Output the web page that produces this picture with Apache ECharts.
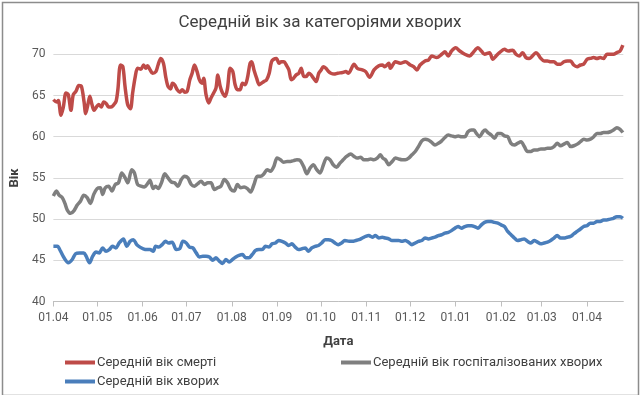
<!DOCTYPE html>
<html>
<head>
<meta charset="utf-8">
<script src="https://cdn.jsdelivr.net/npm/echarts@6/dist/echarts.min.js"></script>
<style>html,body{margin:0;padding:0;background:#fff;}#c{width:640px;height:395px;}</style>
</head>
<body>
<div id="c"></div>
<script>
// Day offsets from 01.04.2020 for month starts (tick positions) and their labels
const monthDays = [0, 30, 61, 91, 122, 153, 183, 214, 244, 275, 306, 334, 365];
const tickLabels = ['01.04','01.05','01.06','01.07','01.08','01.09','01.10','01.11','01.12','01.01','01.02','01.03','01.04'];

const seriesNames = ['Середній вік смерті', 'Середній вік госпіталізованих хворих', 'Середній вік хворих'];

// Середній вік смерті
const deathDays = [0,2.3,3.4,5.2,6.8,8.6,10.2,12.0,13.6,15.4,17.4,19.2,21.0,22.1,23.7,24.9,26.4,27.8,29.4,31.0,32.8,34.4,36.2,37.7,39.5,41.4,42.9,44.1,45.9,47.5,49.0,50.8,52.7,54.2,56.0,57.6,59.9,61.7,63.3,64.4,66.2,67.8,70.1,71.6,73.4,75.3,76.8,78.4,80.2,81.4,82.9,84.7,86.6,88.1,89.9,91.5,93.3,94.9,96.5,98.3,99.9,101.7,102.8,104.4,106.2,107.8,109.6,111.2,112.5,114.1,115.7,117.5,119.1,120.9,122.7,124.3,125.9,127.7,129.3,131.1,132.7,134.5,135.6,137.2,139.0,140.8,142.4,144.0,145.8,147.6,149.2,150.7,152.5,154.4,155.9,157.7,159.3,161.1,162.7,164.3,166.1,167.9,169.5,171.3,172.9,174.7,176.3,177.9,179.7,181.5,183.1,184.6,186.4,188.2,189.8,192.0,194.4,197.8,200.0,201.8,205.7,207.9,211.3,213.6,216.3,219.3,222.6,224.9,226.7,229.4,230.5,233.9,237.3,240.7,244.1,246.4,248.6,250.8,254.2,256.5,258.8,262.2,265.6,267.8,270.1,272.3,275.1,278.0,281.4,284.7,287.0,290.4,292.7,294.9,298.3,300.6,302.8,305.1,308.5,311.2,314.2,316.4,318.6,320.9,323.2,325.4,327.7,330.0,331.5,333.4,335.6,337.9,340.1,342.4,344.7,346.9,349.2,351.5,353.7,355.9,358.2,360.5,362.7,365.0,367.3,369.5,371.8,374.0,376.3,378.6,380.8,383.1,385.4,387.6,389.5];
const deathAge = [64.5,64.2,64.4,62.6,63.6,65.3,65.1,63.2,65.1,65.5,66.2,66.1,64.2,62.8,64.0,64.9,63.9,63.2,63.6,63.9,63.6,64.2,64.0,63.6,63.6,63.9,64.3,65.7,68.7,68.5,66.1,63.9,63.4,65.3,67.3,68.3,68.2,68.7,68.3,68.6,68.1,67.7,67.9,68.7,69.5,68.9,67.3,66.1,65.8,66.5,66.3,65.7,65.4,65.7,65.4,65.5,66.9,67.7,68.7,67.9,66.9,66.5,67.1,65.1,64.1,64.7,65.3,65.9,67.5,66.1,65.3,64.9,65.9,68.3,67.9,66.3,65.7,65.7,66.5,66.3,67.1,68.9,69.1,68.1,67.1,66.3,66.5,66.7,66.9,67.7,69.1,69.4,69.5,68.9,69.1,69.1,68.7,68.1,66.9,67.1,67.5,67.7,68.3,67.3,67.3,67.7,67.5,67.1,66.7,67.7,68.1,68.5,68.3,67.9,67.7,67.6,67.7,67.8,67.9,67.7,68.8,68.3,68.1,67.9,67.2,68.1,68.6,68.7,68.5,68.9,68.3,69.1,68.9,69.1,68.7,68.5,68.1,68.7,69.2,69.3,69.8,69.6,70.0,70.3,69.8,70.4,70.8,70.4,70.0,69.8,70.2,70.8,70.4,70.0,70.2,69.4,69.8,70.2,70.6,70.4,70.5,70.0,69.8,70.2,69.6,69.5,69.8,70.2,70.0,69.5,69.2,69.2,69.1,69.1,68.8,68.8,69.1,69.2,69.2,68.7,68.5,68.7,68.8,69.4,69.5,69.6,69.5,69.6,69.5,70.0,70.0,70.0,70.2,70.4,71.1];

// Середній вік госпіталізованих хворих
const hospDays = [0,2.1,3.9,6.1,7.9,9.5,11.8,14.0,16.3,18.6,20.8,23.1,25.3,27.6,29.9,32.1,33.7,35.5,37.8,40.0,42.3,44.5,46.8,49.1,50.9,53.6,55.4,57.6,59.9,62.2,64.4,66.0,68.3,69.9,71.7,73.9,76.2,78.4,80.7,82.9,85.2,87.5,89.7,92.0,94.3,96.5,98.8,101.0,103.3,105.6,107.8,110.1,112.3,114.6,116.9,119.1,121.4,123.6,125.9,128.2,130.4,132.7,134.9,137.2,139.5,141.7,144.0,146.2,148.5,150.8,153.0,155.3,157.5,159.8,162.1,164.3,166.6,168.8,171.1,173.4,175.6,177.9,180.1,182.4,184.7,186.9,189.2,191.4,193.7,196.0,198.2,200.5,203.4,205.7,207.9,210.2,212.4,214.7,217.0,219.2,221.5,223.7,225.3,227.1,229.4,231.7,233.9,236.2,238.4,240.7,243.0,245.2,247.5,249.7,252.0,254.3,256.5,258.8,261.0,263.3,265.6,267.8,270.1,272.3,274.6,276.9,279.1,281.4,283.6,285.9,287.7,289.3,291.5,293.8,295.4,297.2,299.5,301.7,304.0,306.2,308.5,310.8,313.0,315.3,317.5,319.8,322.1,324.3,326.6,328.8,331.1,333.4,335.6,337.9,340.1,342.4,344.7,346.9,349.2,351.5,353.7,356.0,358.3,360.5,362.8,365.0,367.3,369.6,371.8,374.1,376.3,378.6,380.9,383.1,385.4,387.6,389.5];
const hospAge = [52.8,53.4,52.9,52.6,51.9,51.1,50.7,51.0,51.7,52.2,52.9,52.6,51.9,53.0,53.7,53.8,53.0,53.8,54.0,53.4,54.2,54.4,55.6,55.0,54.4,56.0,55.6,54.2,54.0,53.9,54.3,54.7,53.7,54.0,53.7,54.4,55.5,55.0,54.5,54.4,54.0,54.8,55.2,55.0,54.2,54.0,54.3,54.6,54.2,54.4,54.4,53.6,53.8,54.0,54.8,54.4,53.6,53.4,54.2,53.8,53.9,53.7,53.3,54.2,55.2,55.2,55.5,56.0,55.8,56.4,57.4,57.2,56.9,57.0,57.0,57.1,57.2,57.1,56.4,55.5,56.2,56.6,56.0,55.6,56.6,57.4,57.2,56.6,56.3,56.8,57.2,57.6,57.9,57.6,57.4,57.5,57.2,57.2,57.3,57.2,57.4,57.8,57.4,57.2,56.6,57.0,57.4,57.3,57.2,57.2,57.4,57.8,58.2,58.8,59.5,59.7,59.6,59.3,59.0,59.2,59.5,59.9,60.2,60.1,60.0,60.1,60.0,60.0,60.6,60.8,60.8,60.4,60.0,60.6,60.8,60.5,60.2,59.8,60.4,60.4,60.1,60.0,59.2,59.0,59.2,59.4,58.8,58.2,58.2,58.4,58.4,58.5,58.5,58.6,58.6,58.8,59.2,58.9,59.1,59.3,58.8,58.9,59.1,59.4,59.7,59.6,59.7,60.0,60.4,60.4,60.5,60.5,60.6,60.8,61.1,60.9,60.5];

// Середній вік хворих
const caseDays = [0,2.7,4.9,7.3,10.2,12.9,15.2,17.9,20.8,22.4,24.7,26.9,29.2,31.4,33.7,36.0,38.2,40.5,42.7,45.0,47.9,50.2,52.5,54.7,57.0,59.2,61.5,63.7,66.0,68.3,69.9,72.1,74.4,76.6,78.9,81.2,84.1,86.4,88.6,90.9,93.1,95.4,97.7,99.9,102.2,104.4,106.7,109.0,111.2,113.5,115.7,118.0,120.2,122.5,124.8,127.0,129.3,131.5,133.8,136.0,138.3,140.6,142.8,145.1,147.4,149.6,151.9,154.1,156.4,158.7,160.9,163.2,165.4,167.7,170.0,172.2,174.5,176.7,179.0,181.3,183.5,185.8,188.0,190.3,192.6,194.8,197.1,199.3,202.3,204.5,206.8,209.0,211.3,213.6,215.8,218.1,220.3,222.6,224.9,227.1,229.4,231.6,233.9,236.2,238.4,240.7,242.9,245.2,247.5,249.7,252.0,254.2,256.5,258.8,261.0,263.3,265.5,267.8,270.1,272.3,274.6,276.8,279.1,281.4,283.6,285.9,288.1,290.4,292.7,294.9,297.2,299.4,301.7,304.0,306.2,308.5,310.7,313.0,315.3,317.5,319.8,322.0,324.3,326.6,328.8,331.1,333.3,335.6,337.9,340.1,342.4,344.6,346.9,349.2,351.4,353.7,355.9,358.2,360.5,362.7,365.0,367.2,369.5,371.8,374.0,376.3,378.5,380.8,383.1,385.3,387.6,389.5];
const caseAge = [46.7,46.7,46.1,45.3,44.7,45.1,45.8,45.9,45.9,45.5,44.7,45.5,46.0,45.9,46.5,46.1,46.3,46.7,46.5,47.1,47.6,46.7,47.3,47.5,46.9,46.6,46.4,46.3,46.3,46.1,46.7,46.6,46.9,47.3,47.1,47.2,46.3,46.4,47.3,47.1,46.6,46.5,45.9,45.4,45.5,45.5,45.4,45.0,45.3,44.9,44.6,45.1,44.8,45.1,45.4,45.6,45.7,45.3,45.3,45.7,46.2,46.3,46.3,46.7,46.6,47.0,47.1,47.4,47.3,47.1,46.8,47.0,46.6,46.3,46.4,46.5,46.1,46.5,46.7,46.8,47.1,47.5,47.5,47.4,47.1,46.9,47.1,47.4,47.3,47.3,47.4,47.5,47.7,47.9,48.0,47.8,48.0,47.7,47.8,47.7,47.6,47.4,47.4,47.4,47.3,47.4,47.2,46.9,47.1,47.3,47.4,47.7,47.6,47.7,47.8,48.0,48.1,48.3,48.4,48.6,48.9,49.1,48.9,49.1,49.2,49.2,49.1,48.9,49.3,49.6,49.7,49.7,49.6,49.5,49.3,49.1,48.5,48.1,47.7,47.4,47.5,47.6,47.3,47.1,47.4,47.2,47.0,47.1,47.2,47.4,47.7,48.0,47.7,47.7,47.8,47.9,48.2,48.5,48.8,49.1,49.2,49.5,49.5,49.7,49.7,49.9,49.9,50.0,50.1,50.3,50.3,50.1];

const zip = (xs, ys) => xs.map((x, i) => [x, ys[i]]);
const colors = ['#BE4B48', '#7F7F7F', '#4A7EBB'];
const FONT = 'Roboto';

const chart = echarts.init(document.getElementById('c'), null, {renderer: 'canvas'});
chart.setOption({
  animation: false,
  backgroundColor: '#ffffff',
  color: colors,
  title: {
    text: 'Середній вік за категоріями хворих',
    left: 'center', top: 9,
    textStyle: {fontFamily: FONT, fontSize: 17, fontWeight: 'normal', color: '#404040'}
  },
  grid: {left: 48.3, right: 16.7, top: 54.3, bottom: 93.5},
  legend: [
    {data: [seriesNames[0]], left: 60, top: 351},
    {data: [seriesNames[1]], left: 336, top: 351},
    {data: [seriesNames[2]], left: 60, top: 370}
  ].map(l => Object.assign(l, {
    icon: 'rect', itemWidth: 30, itemHeight: 4, itemGap: 4,
    textStyle: {fontFamily: FONT, fontSize: 13, color: '#404040', padding: [0, 0, 0, -3]}
  })),
  xAxis: {
    type: 'value', min: 0, max: 389.8,
    name: 'Дата', nameLocation: 'middle', nameGap: 34,
    nameTextStyle: {fontFamily: FONT, fontSize: 13, fontWeight: 'bold', color: '#404040'},
    axisLine: {show: true, lineStyle: {color: '#BFBFBF', width: 1}},
    axisTick: {show: true, length: 5, inside: false, customValues: monthDays, lineStyle: {color: '#BFBFBF'}},
    axisLabel: {
      customValues: monthDays, margin: 10,
      fontFamily: FONT, fontSize: 12, color: '#595959',
      formatter: (v) => { const i = monthDays.indexOf(v); return i >= 0 ? tickLabels[i] : ''; }
    },
    splitLine: {show: false}
  },
  yAxis: {
    type: 'value', min: 40, max: 70, interval: 5,
    name: 'Вік', nameLocation: 'middle', nameGap: 30, nameRotate: 90,
    nameTextStyle: {fontFamily: FONT, fontSize: 13, fontWeight: 'bold', color: '#404040'},
    axisLine: {show: false}, axisTick: {show: false},
    axisLabel: {fontFamily: FONT, fontSize: 12, color: '#595959', margin: 8},
    splitLine: {lineStyle: {color: '#D9D9D9', width: 1}}
  },
  series: [
    {name: seriesNames[0], type: 'line', data: zip(deathDays, deathAge)},
    {name: seriesNames[1], type: 'line', data: zip(hospDays, hospAge)},
    {name: seriesNames[2], type: 'line', data: zip(caseDays, caseAge)}
  ].map((s, i) => Object.assign(s, {
    showSymbol: false, smooth: 0.3, clip: false,
    lineStyle: {width: 3.5, color: colors[i]}, itemStyle: {color: colors[i]}
  })),
  graphic: [{
    type: 'rect', left: 0, top: 0, silent: true,
    shape: {x: 0, y: 0, width: 636, height: 393},
    style: {fill: 'none', stroke: '#8C8C8C', lineWidth: 1.5}
  }]
});
</script>
</body>
</html>
